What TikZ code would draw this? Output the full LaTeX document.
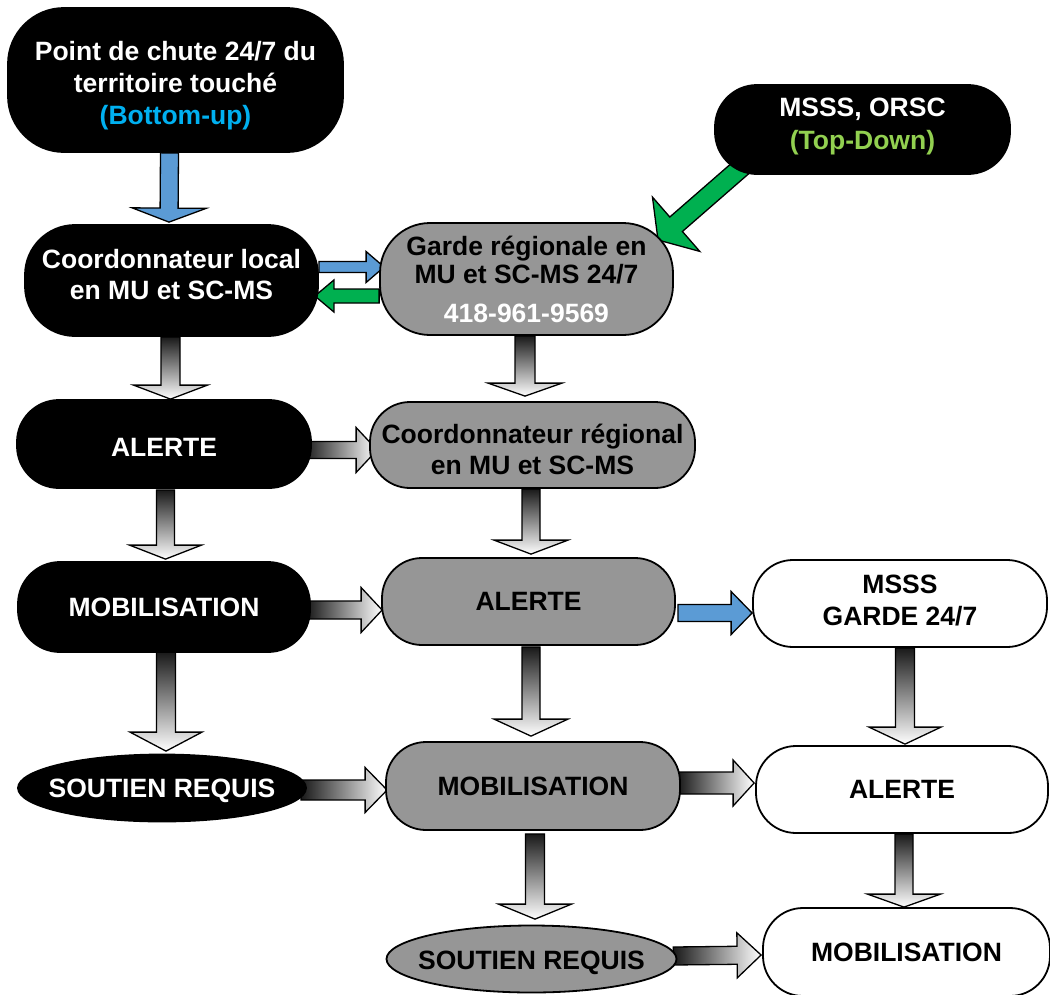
\documentclass[tikz,border=0pt]{standalone}
\usepackage{fontspec}
\setmainfont{Liberation Sans}
\usetikzlibrary{calc,shapes.geometric,backgrounds}

\definecolor{boxgray}{RGB}{150,150,150}
\definecolor{arrowblue}{RGB}{91,155,213}
\definecolor{arrowgreen}{RGB}{0,176,80}
\definecolor{bottomup}{RGB}{0,176,240}
\definecolor{topdown}{RGB}{146,208,80}

% Block arrow from #2 to #3: shaft half width #4, head half width #5, head length #6
\newcommand{\fatarrow}[6][]{%
  \coordinate (fa-s) at (#2);
  \coordinate (fa-e) at (#3);
  \draw[arrowline,#1]
    ($(fa-s)!#4!90:(fa-e)$) --
    ($(fa-e)!#6!(fa-s)!#4!-90:(fa-s)$) --
    ($(fa-e)!#6!(fa-s)!#5!-90:(fa-s)$) --
    (fa-e) --
    ($(fa-e)!#6!(fa-s)!#5!90:(fa-s)$) --
    ($(fa-e)!#6!(fa-s)!#4!90:(fa-s)$) --
    ($(fa-s)!#4!-90:(fa-e)$) -- cycle;}

% Text moved by #1 inside its box, the box keeping its size
\newcommand{\textblock}[2]{\raisebox{#1}[\height][\depth]{\begin{tabular}{@{}c@{}}#2\end{tabular}}}
\newcommand{\textline}[2]{\raisebox{#1}[\height][\depth]{#2}}

\tikzset{
  base/.style={inner sep=0pt, align=center, line width=1.8pt,
    font=\bfseries\fontsize{26.5}{31}\selectfont},
  blackbox/.style={base, draw=black, fill=black, text=white},
  graybox/.style={base, draw=black, fill=boxgray, text=black},
  whitebox/.style={base, draw=black, fill=white, text=black},
  arrowline/.style={draw=black, line width=1.3pt, line join=miter},
  gradv/.style={top color=black!90, bottom color=white},
  gradh/.style={left color=black!90, right color=white},
  bluefill/.style={fill=arrowblue},
  greenfill/.style={fill=arrowgreen},
}

\begin{document}
\begin{tikzpicture}[x=1pt, y=-1pt]
\useasboundingbox (0,0) rectangle (1050,994);

% ---- left column
\node[blackbox, minimum width=335pt, minimum height=144pt, rounded corners=56pt,
  font=\bfseries\fontsize{26.5}{32}\selectfont]
  (chute) at (175.5,80) {\textblock{-6pt}{Point de chute 24/7 du\\territoire touché\\\textcolor{bottomup}{(Bottom-up)}}};
\node[blackbox, minimum width=293pt, minimum height=111pt, rounded corners=50pt]
  (local) at (171.5,280.5) {\textblock{3pt}{Coordonnateur local\\en MU et SC-MS}};
\node[blackbox, minimum width=294pt, minimum height=88pt, rounded corners=42pt]
  (alert1) at (164,444) {\textline{-3pt}{ALERTE}};
\node[blackbox, minimum width=292pt, minimum height=90pt, rounded corners=42pt]
  (mob1) at (164,607) {MOBILISATION};
\node[blackbox, ellipse, minimum width=288pt, minimum height=67pt]
  (sout1) at (162,788) {\makebox[0pt]{\textline{-3pt}{SOUTIEN REQUIS}}};

% ---- middle column
\node[graybox, minimum width=293pt, minimum height=112pt, rounded corners=50pt,
  font=\bfseries\fontsize{26.5}{28}\selectfont]
  (garde) at (526.5,279) {Garde régionale en\\MU et SC-MS 24/7\\[11pt]\textcolor{white}{418-961-9569}};
\node[graybox, minimum width=325pt, minimum height=86pt, rounded corners=40pt]
  (reg) at (532.5,445) {\textblock{-8pt}{Coordonnateur régional\\en MU et SC-MS}};
\node[graybox, minimum width=293pt, minimum height=87pt, rounded corners=40pt]
  (alert2) at (528.5,601.5) {ALERTE};
\node[graybox, minimum width=294pt, minimum height=88pt, rounded corners=40pt]
  (mob2) at (533,786) {MOBILISATION};
\node[graybox, ellipse, minimum width=290pt, minimum height=67pt]
  (sout2) at (531.5,959) {\makebox[0pt]{\textline{-4pt}{SOUTIEN REQUIS}}};

% ---- right column
\node[blackbox, minimum width=295pt, minimum height=89pt, rounded corners=42pt,
  font=\bfseries\fontsize{26.5}{33}\selectfont]
  (orsc) at (862.5,129.5) {\textblock{3pt}{MSSS, ORSC\\\textcolor{topdown}{(Top-Down)}}};
\node[whitebox, minimum width=294pt, minimum height=87pt, rounded corners=40pt,
  font=\bfseries\fontsize{26.5}{32}\selectfont]
  (garde3) at (900,603.5) {\textblock{0pt}{MSSS\\GARDE 24/7}};
\node[whitebox, minimum width=292pt, minimum height=87pt, rounded corners=40pt]
  (alert3) at (902,789.5) {ALERTE};
\node[whitebox, minimum width=287pt, minimum height=88pt, rounded corners=40pt]
  (mob3) at (906.5,952) {MOBILISATION};

% ---- block arrows, kept behind the boxes
\begin{pgfonlayer}{background}
  % coloured links
  \fatarrow[bluefill]{$(chute.south)+(-6,0)$}{$(local.north)+(-2.5,-2)$}{9pt}{37pt}{14pt}
  \fatarrow[bluefill]{$(local.east)+(0,-13.5)$}{$(garde.west)+(5,-12)$}{5.5pt}{15.5pt}{18pt}
  \fatarrow[greenfill]{$(garde.west)+(0,17)$}{$(local.east)+(-4,15.5)$}{7pt}{16pt}{19pt}
  \fatarrow[greenfill]{$(orsc.south west)+(37,-16)$}{$(garde.center)+(131.5,-39)$}{9.6pt}{36pt}{24pt}
  \fatarrow[bluefill]{$(alert2.east)+(2,11.5)$}{$(garde3.west)+(0,9.5)$}{8.5pt}{21.5pt}{21pt}

  % vertical flow
  \fatarrow[gradv]{$(local.south)+(-1,0)$}{$(alert1.north)+(6.5,0)$}{9.5pt}{37pt}{14pt}
  \fatarrow[gradv]{$(alert1.south)+(1.5,1)$}{$(mob1.north)+(1.5,-2)$}{9pt}{36pt}{14pt}
  \fatarrow[gradv]{$(mob1.south)+(2,-1)$}{$(sout1.north)+(4,-2.5)$}{9.5pt}{36pt}{19pt}
  \fatarrow[gradv]{$(garde.south)+(-1.5,0)$}{$(reg.north)+(-7.5,-5)$}{10pt}{37pt}{13pt}
  \fatarrow[gradv]{$(reg.south)+(-1.5,0)$}{$(alert2.north)+(2.5,-3)$}{9pt}{37pt}{14pt}
  \fatarrow[gradv]{$(alert2.south)+(2.5,1)$}{$(mob2.north)+(-2,-5)$}{9pt}{37pt}{17pt}
  \fatarrow[gradv]{$(mob2.south)+(2,3)$}{$(sout2.north)+(3.5,-5.5)$}{9.5pt}{36.5pt}{15pt}
  \fatarrow[gradv]{$(garde3.south)+(5,0)$}{$(alert3.north)+(3,-1)$}{9.5pt}{36pt}{17pt}
  \fatarrow[gradv]{$(alert3.south)+(2,0)$}{$(mob3.north)+(-2.5,0)$}{9pt}{36.5pt}{13pt}

  % horizontal flow
  \fatarrow[gradh]{$(alert1.east)+(-8,6)$}{$(reg.west)+(8,5)$}{8.5pt}{22.5pt}{21pt}
  \fatarrow[gradh]{$(mob1.east)+(-4,3)$}{$(alert2.west)+(1,8.5)$}{9pt}{22.5pt}{21pt}
  \fatarrow[gradh]{$(sout1.east)+(-6,2)$}{$(mob2.west)+(2,4)$}{10pt}{22.5pt}{22pt}
  \fatarrow[gradh]{$(mob2.east)+(-3,-3)$}{$(alert3.west)+(-1,-6.5)$}{11pt}{23pt}{21pt}
  \fatarrow[gradh]{$(sout2.east)+(-4,-3)$}{$(mob3.west)+(-1,3)$}{9pt}{22.5pt}{24pt}
\end{pgfonlayer}
\end{tikzpicture}
\end{document}
